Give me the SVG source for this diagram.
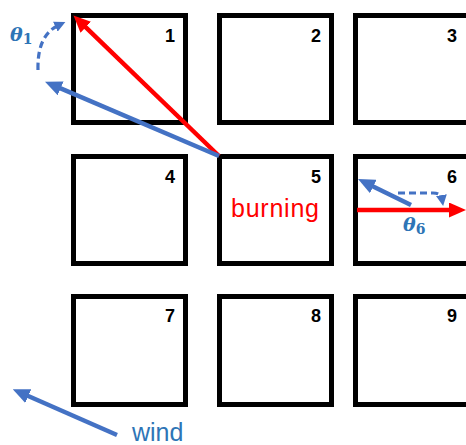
<svg xmlns="http://www.w3.org/2000/svg" width="466" height="445" viewBox="0 0 466 445">
<style>
.cell{fill:none;stroke:#000;stroke-width:5}
.num{font-family:"Liberation Sans",Arial,sans-serif;font-weight:bold;font-size:18px;fill:#000;text-anchor:end}
.red{stroke:#FF0000;stroke-width:4.5;fill:none}
.blue{stroke:#4472C4;stroke-width:4.5;fill:none}
.dash{stroke:#4472C4;stroke-width:3.2;fill:none;stroke-dasharray:7 4}
.theta{font-family:"DejaVu Serif","Liberation Serif",serif;font-weight:bold;font-style:italic;font-size:19px;fill:#2E75B6}
.sub{font-size:14px;font-style:normal}
</style>
<defs>
<marker id="ahRed" markerUnits="userSpaceOnUse" markerWidth="17" markerHeight="15" refX="7" refY="7.5" orient="auto"><path d="M0,0 L17,7.5 L0,15 Z" fill="#FF0000"/></marker>
<marker id="ahBlue" markerUnits="userSpaceOnUse" markerWidth="17" markerHeight="15" refX="7" refY="7.5" orient="auto"><path d="M0,0 L17,7.5 L0,15 Z" fill="#4472C4"/></marker>
<marker id="ahDash" markerUnits="userSpaceOnUse" markerWidth="11" markerHeight="11" refX="4" refY="5.5" orient="auto"><path d="M0,0 L11,5.5 L0,11 Z" fill="#4472C4"/></marker>
</defs>
<rect width="466" height="445" fill="#fff"/>
<g id="cell1"><rect class="cell" x="73.5" y="15.5" width="112" height="107"/><text class="num" x="175" y="42">1</text></g>
<g id="cell2"><rect class="cell" x="219.5" y="15.5" width="112" height="107"/><text class="num" x="321" y="42">2</text></g>
<g id="cell3"><rect class="cell" x="355.5" y="15.5" width="114" height="107"/><text class="num" x="457" y="42">3</text></g>
<g id="cell4"><rect class="cell" x="73.5" y="156.5" width="112" height="107"/><text class="num" x="175" y="183">4</text></g>
<g id="cell5"><rect class="cell" x="219.5" y="156.5" width="112" height="107"/><text class="num" x="321" y="183">5</text>
<text x="231" y="217" font-family="Liberation Sans,Arial,sans-serif" font-size="25" fill="#FF0000" textLength="88">burning</text></g>
<g id="cell6"><rect class="cell" x="355.5" y="156.5" width="114" height="107"/><text class="num" x="457" y="183">6</text></g>
<g id="cell7"><rect class="cell" x="73.5" y="296.5" width="112" height="108"/><text class="num" x="175" y="322">7</text></g>
<g id="cell8"><rect class="cell" x="219.5" y="296.5" width="112" height="108"/><text class="num" x="321" y="322">8</text></g>
<g id="cell9"><rect class="cell" x="355.5" y="296.5" width="114" height="108"/><text class="num" x="457" y="322">9</text></g>
<g id="connectors">
<line class="red" x1="219" y1="156" x2="80.7" y2="22.4" marker-end="url(#ahRed)"/>
<line class="blue" x1="219" y1="156" x2="54.2" y2="85.6" marker-end="url(#ahBlue)"/>
<path class="dash" d="M38,70 Q37,35 59,25" marker-end="url(#ahDash)"/>
<line class="red" x1="357" y1="210" x2="456" y2="210" marker-end="url(#ahRed)"/>
<line class="blue" x1="411" y1="205" x2="367" y2="183.4" marker-end="url(#ahBlue)"/>
<path class="dash" d="M398,193 L433,193 Q441,193 442,199" marker-end="url(#ahDash)"/>
<line class="blue" x1="117" y1="435" x2="21.9" y2="393.3" marker-end="url(#ahBlue)"/>
</g>
<text class="theta" x="10" y="41">θ<tspan class="sub" dy="3">1</tspan></text>
<text class="theta" x="403" y="231">θ<tspan class="sub" dy="3">6</tspan></text>
<text x="132" y="441" font-family="Liberation Sans,Arial,sans-serif" font-size="25" fill="#2E75B6">wind</text>
</svg>
